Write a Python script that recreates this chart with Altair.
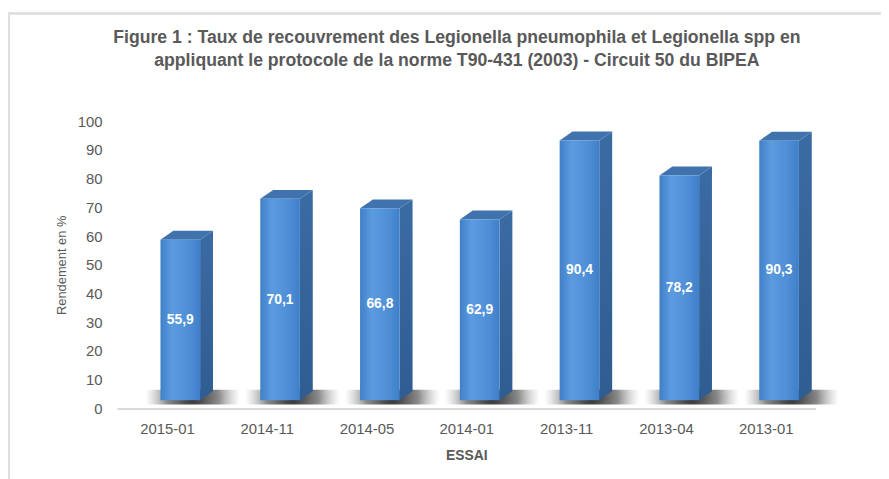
import altair as alt
import pandas as pd

# ---- data ----
categories = ["2015-01", "2014-11", "2014-05", "2014-01", "2013-11", "2013-04", "2013-01"]
values = [55.9, 70.1, 66.8, 62.9, 90.4, 78.2, 90.3]
y_ticks = [0, 10, 20, 30, 40, 50, 60, 70, 80, 90, 100]

title_lines = [
    "Figure 1 : Taux de recouvrement des Legionella pneumophila et Legionella spp en",
    "appliquant le protocole de la norme T90-431 (2003) - Circuit 50 du BIPEA",
]

# ---- layout (pixels) ----
W, H = 705, 290
PXX = W / len(categories)      # px per category unit
PXY = H / 100.0                # px per value unit
FRONT_L, FRONT_R = -6.5, 33.5  # front face relative to category centre (px)
DEPTH_X, DEPTH_Y = 13, 9       # 3D depth (px)
LIFT = 8.3                     # front face lifted above the floor (px)

ux = lambda px: px / PXX
uy = lambda px: px / PXY

front, side, top, shadow = [], [], [], []
for i, (c, v) in enumerate(zip(categories, values)):
    fl, fr = i + ux(FRONT_L), i + ux(FRONT_R)
    b0 = uy(LIFT)
    front.append(dict(id=i, cat=c, v=v, x=fl, x2=fr, y=b0, y2=v + b0,
                      xm=i + ux((FRONT_L + FRONT_R) / 2), ym=v / 2 + b0))
    side.append(dict(id=i, sx=fr, sy=b0, sy2=v + b0))
    side.append(dict(id=i, sx=fr + ux(DEPTH_X), sy=b0 + uy(DEPTH_Y), sy2=v + b0 + uy(DEPTH_Y)))
    top.append(dict(id=i, ty=v + b0, tx=fl, tx2=fr))
    top.append(dict(id=i, ty=v + b0 + uy(DEPTH_Y), tx=fl + ux(DEPTH_X), tx2=fr + ux(DEPTH_X)))
    shadow.append(dict(id=i, x=i + ux(-22), x2=i + ux(74), y=uy(4), y2=uy(19)))

df_front = pd.DataFrame(front)
df_side = pd.DataFrame(side)
df_top = pd.DataFrame(top)
df_shadow = pd.DataFrame(shadow)

xscale = alt.Scale(domain=[-0.5, len(categories) - 0.5], nice=False, zero=False)
yscale = alt.Scale(domain=[0, 100], nice=False, zero=False)

label_expr = "[" + ",".join("'%s'" % c for c in categories) + "][round(datum.value)]"

FONT = "Liberation Sans"
GREY = "#595959"

xaxis = alt.Axis(values=list(range(len(categories))), labelExpr=label_expr, title="ESSAI",
                 grid=False, ticks=False, domain=True, domainColor="#d9d9d9", domainWidth=2,
                 labelFont=FONT, labelFontSize=15, labelColor=GREY, labelPadding=13,
                 labelOverlap=False,
                 titleFont=FONT, titleFontSize=14, titleFontWeight="bold", titleColor=GREY,
                 titlePadding=12)
yaxis = alt.Axis(values=y_ticks, tickCount=11, title="Rendement en %", grid=False, ticks=False,
                 domain=False,
                 labelFont=FONT, labelFontSize=15, labelColor=GREY, labelPadding=15,
                 labelOverlap=False,
                 titleFont=FONT, titleFontSize=13, titleFontWeight="normal", titleColor=GREY,
                 titleX=-56, titleY=H / 2, titleAngle=-90, titleAlign="center",
                 titleBaseline="middle")

shadow_grad = alt.RadialGradient(
    gradient="radial", x1=0.5, y1=0.5, r1=0, x2=0.5, y2=0.5, r2=0.5,
    stops=[alt.GradientStop(color="rgba(30,30,30,0.95)", offset=0),
           alt.GradientStop(color="rgba(60,60,60,0.6)", offset=0.55),
           alt.GradientStop(color="rgba(140,140,140,0)", offset=1)])

front_grad = alt.LinearGradient(
    gradient="linear", x1=0, y1=0, x2=1, y2=0,
    stops=[alt.GradientStop(color="#3f80c8", offset=0),
           alt.GradientStop(color="#5b9be0", offset=0.3),
           alt.GradientStop(color="#4c8dd5", offset=0.75),
           alt.GradientStop(color="#3e7fc7", offset=1)])

side_grad = alt.LinearGradient(
    gradient="linear", x1=0, y1=0, x2=0, y2=1,
    stops=[alt.GradientStop(color="#3b6ba3", offset=0),
           alt.GradientStop(color="#2f5d92", offset=1)])

shadow_layer = alt.Chart(df_shadow).mark_rect(fill=shadow_grad).encode(
    x=alt.X("x:Q", scale=xscale, axis=xaxis), x2="x2:Q",
    y=alt.Y("y:Q", scale=yscale, axis=yaxis), y2="y2:Q")

front_layer = alt.Chart(df_front).mark_rect(fill=front_grad).encode(
    x=alt.X("x:Q", scale=xscale, axis=xaxis), x2="x2:Q",
    y=alt.Y("y:Q", scale=yscale, axis=yaxis), y2="y2:Q")

side_layer = alt.Chart(df_side).mark_area(orient="vertical", fill=side_grad,
                                          interpolate="linear").encode(
    x=alt.X("sx:Q", scale=xscale, axis=xaxis),
    y=alt.Y("sy:Q", scale=yscale, axis=yaxis, stack=None), y2="sy2:Q",
    detail="id:N")

top_layer = alt.Chart(df_top).mark_area(orient="horizontal", fill="#4073ad",
                                        interpolate="linear").encode(
    y=alt.Y("ty:Q", scale=yscale, axis=yaxis),
    x=alt.X("tx:Q", scale=xscale, axis=xaxis, stack=None), x2="tx2:Q",
    detail="id:N")

text_layer = alt.Chart(df_front).transform_calculate(
    lab="replace(format(datum.v, '.1f'), '.', ',')"
).mark_text(font=FONT, fontSize=14, fontWeight="bold", color="white",
            baseline="middle", align="center").encode(
    x=alt.X("xm:Q", scale=xscale, axis=xaxis),
    y=alt.Y("ym:Q", scale=yscale, axis=yaxis), text="lab:N")

border_top = alt.Chart(df_front).mark_rule(color="#dedede", strokeWidth=1.5).encode(
    x=alt.value(-110), x2=alt.value(W + 70), y=alt.value(-108.5))
border_left = alt.Chart(df_front).mark_rule(color="#dedede", strokeWidth=1.5).encode(
    x=alt.value(-109.5), y=alt.value(-108.5), y2=alt.value(H + 80))

chart = alt.layer(
    border_top, border_left, shadow_layer, side_layer, top_layer, front_layer, text_layer
).properties(
    width=W, height=H,
    background="white",
    title=alt.TitleParams(text=title_lines, font=FONT, fontSize=17.8, fontWeight="bold",
                          color=GREY, anchor="middle", lineHeight=23, offset=0,
                          baseline="top", dy=57, dx=-9.5),
    padding={"left": 110, "top": 112, "right": 66, "bottom": 69},
    autosize=alt.AutoSizeParams(type="none"),
).configure_view(stroke=None)

chart.save("out.html", embed_options={"renderer": "svg", "actions": False})
